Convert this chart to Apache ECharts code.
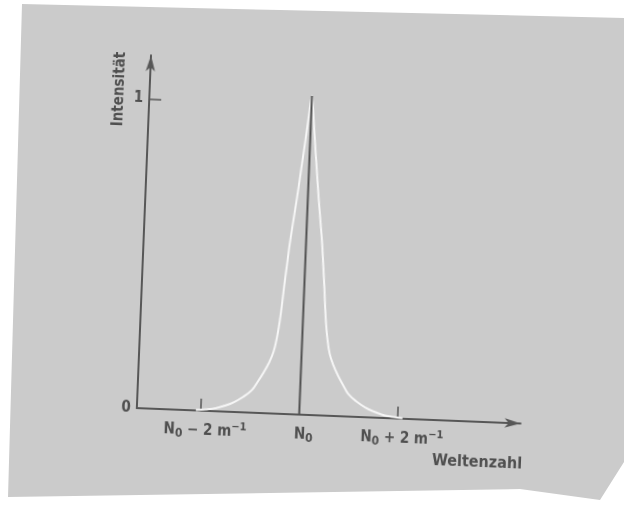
<!DOCTYPE html>
<html>
<head>
<meta charset="utf-8">
<script src="https://cdn.jsdelivr.net/npm/echarts@6/dist/echarts.min.js"></script>
<style>
  html, body { margin: 0; padding: 0; background: #ffffff; }
  #bg { position: absolute; left: 0; top: 0; width: 624px; height: 516px;
        background: #cbcbcb;
        clip-path: polygon(22px 4px, 280px 10px, 624px 18px, 624px 462px, 600px 500px, 520px 489px, 8px 497px); }
  #chart { position: absolute; left: 0; top: 0; width: 624px; height: 516px;
           transform: rotate(2.3deg); transform-origin: 312px 258px; }
</style>
</head>
<body>
<div id="bg"></div>
<div id="chart"></div>
<script>
// Wavenumber offset from N0 (m^-1) and relative intensity (right half; left half mirrors it)
const halfX = [0, 0.05, 0.1, 0.16, 0.22, 0.28, 0.33, 0.37, 0.41, 0.44, 0.47, 0.51, 0.57, 0.65, 0.76, 0.87, 0.98, 1.15, 1.33, 1.5, 1.7, 1.9, 2.1];
const halfY = [1.03, 0.96, 0.88, 0.79, 0.70, 0.62, 0.55, 0.48, 0.41, 0.35, 0.30, 0.25, 0.20, 0.165, 0.13, 0.10, 0.073, 0.05, 0.032, 0.02, 0.01, 0.005, 0.002];
// Central line at N0
const centerX = [0, 0];
const centerY = [0, 1.03];
// Axis ticks and labels
const xTickValues = [-2, 2];
const xLabelValues = [-2, 0, 2];
const xLabelTexts = ['{a|N}{s|0}{a| − 2 m}{u|−1}', '{a|N}{s|0}', '{a|N}{s|0}{a| + 2 m}{u|−1}'];
const yTickValues = [1];
const yLabelValues = [0, 1];
const yLabelTexts = ['0', '1'];
const xName = 'Weltenzahl';
const yName = 'Intensität';

const FONT = "'Liberation Sans Narrow', 'DejaVu Sans Condensed', 'Liberation Sans', sans-serif";
const INK = '#4f4f4f';

const curve = [];
for (let i = halfX.length - 1; i > 0; i--) curve.push([-halfX[i], halfY[i]]);
for (let i = 0; i < halfX.length; i++) curve.push([halfX[i], halfY[i]]);

const chart = echarts.init(document.getElementById('chart'), null, { renderer: 'canvas' });
chart.setOption({
  backgroundColor: 'transparent',
  animation: false,
  grid: { left: 143, right: 97, top: 62, bottom: 101 },
  xAxis: {
    type: 'value', min: -3.3, max: 4.5,
    axisLine: { onZero: false, lineStyle: { color: '#575757', width: 2 }, symbol: ['none', 'arrow'], symbolSize: [7, 16] },
    axisTick: { inside: true, length: 12, customValues: xTickValues, lineStyle: { color: '#575757', width: 1.5 } },
    axisLabel: {
      customValues: xLabelValues, margin: 10, padding: [0, 0, 0, 10],
      formatter: v => xLabelTexts[xLabelValues.indexOf(v)],
      rich: {
        a: { color: INK, fontFamily: FONT, fontSize: 15, fontWeight: 'bold', lineHeight: 20, verticalAlign: 'middle' },
        s: { color: INK, fontFamily: FONT, fontSize: 12, fontWeight: 'bold', lineHeight: 10, verticalAlign: 'bottom' },
        u: { color: INK, fontFamily: FONT, fontSize: 11, fontWeight: 'bold', lineHeight: 10, verticalAlign: 'top' }
      }
    },
    splitLine: { show: false }
  },
  yAxis: {
    type: 'value', min: 0, max: 1.14,
    axisLine: { show: true, onZero: false, lineStyle: { color: '#575757', width: 2 }, symbol: ['none', 'arrow'], symbolSize: [7, 16] },
    axisTick: { show: true, inside: true, length: 12, customValues: yTickValues, lineStyle: { color: '#575757', width: 1.5 } },
    axisLabel: {
      customValues: yLabelValues, margin: 6,
      formatter: v => yLabelTexts[yLabelValues.indexOf(v)],
      color: INK, fontFamily: FONT, fontSize: 15, fontWeight: 'bold'
    },
    splitLine: { show: false }
  },
  graphic: [
    { type: 'text', x: 113, y: 97, rotation: Math.PI / 2,
      style: { text: yName, fill: INK, font: "bold 15px " + FONT, textAlign: 'center', textVerticalAlign: 'middle' } },
    { type: 'text', x: 485, y: 456,
      style: { text: xName, fill: INK, font: "bold 16px " + FONT, textAlign: 'center', textVerticalAlign: 'middle' } }
  ],
  series: [
    {
      type: 'line', name: 'center', data: centerX.map((x, i) => [x, centerY[i]]),
      symbol: 'none', lineStyle: { color: '#505050', width: 2 }, z: 3
    },
    {
      type: 'line', name: 'profile', data: curve,
      symbol: 'none', smooth: 0.4,
      lineStyle: { color: '#f6f6f6', width: 2 }, z: 2
    }
  ]
});
</script>
</body>
</html>
